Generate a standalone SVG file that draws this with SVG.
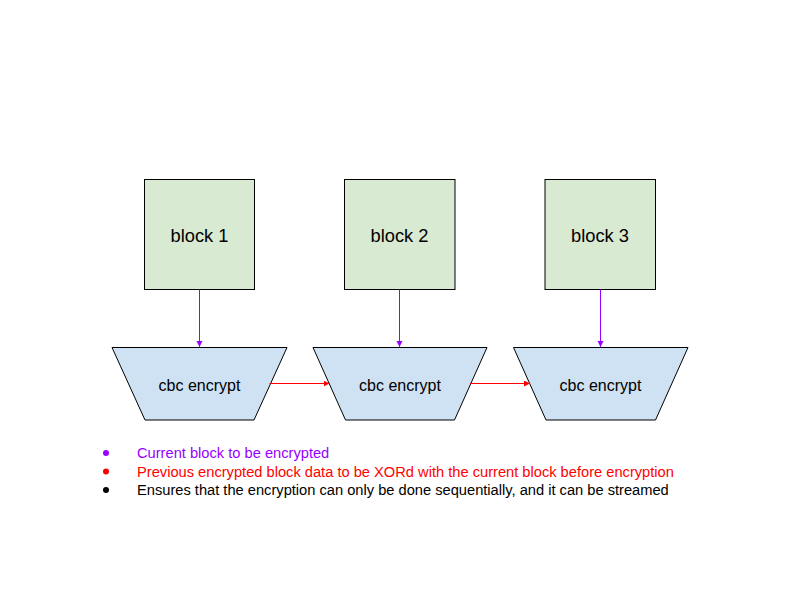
<svg xmlns="http://www.w3.org/2000/svg" width="800" height="600" viewBox="0 0 800 600">
<defs>
<style>
.blk{fill:#d9ead3;stroke:#000;stroke-width:1}
.trap{fill:#cfe2f3;stroke:#000;stroke-width:1}
text{font-family:"Liberation Sans",Arial,sans-serif}
.bt{font-size:18.3px;text-anchor:middle}
.ct{font-size:16px;text-anchor:middle}
.lg{font-size:14.67px}
.p{stroke:#9900ff;stroke-width:1;fill:none}
.r{stroke:#ff0000;stroke-width:1;fill:none}
</style>
<marker id="ap" markerWidth="8" markerHeight="8" refX="6" refY="3" orient="auto" markerUnits="userSpaceOnUse"><path d="M0,0 L6,3 L0,6 z" fill="#9900ff"/></marker>
<marker id="ar" markerWidth="8" markerHeight="8" refX="6" refY="3" orient="auto" markerUnits="userSpaceOnUse"><path d="M0,0 L6,3 L0,6 z" fill="#ff0000"/></marker>
</defs>
<rect width="800" height="600" fill="#fff"/>
<g id="block1"><rect class="blk" x="144.5" y="179.5" width="110" height="110"/><text class="bt" x="199.5" y="241.5">block 1</text></g>
<g id="block2"><rect class="blk" x="344.5" y="179.5" width="110.5" height="110"/><text class="bt" x="399.5" y="241.5">block 2</text></g>
<g id="block3"><rect class="blk" x="545" y="179.5" width="110.5" height="110"/><text class="bt" x="600" y="241.5">block 3</text></g>
<g id="enc1"><path class="trap" d="M112,347.5 L287,347.5 L254,420 L145,420 Z"/><text class="ct" x="199.5" y="390.5">cbc encrypt</text></g>
<g id="enc2"><path class="trap" d="M313,347.5 L487,347.5 L454.5,420 L345.5,420 Z"/><text class="ct" x="400" y="390.5">cbc encrypt</text></g>
<g id="enc3"><path class="trap" d="M513.5,347.5 L688,347.5 L655.5,420 L546,420 Z"/><text class="ct" x="600.5" y="390.5">cbc encrypt</text></g>
<g id="connectors">
<line class="p" x1="199.5" y1="289.5" x2="199.5" y2="347" marker-end="url(#ap)"/>
<line class="p" x1="399.5" y1="289.5" x2="399.5" y2="347" marker-end="url(#ap)"/>
<line class="p" x1="600.5" y1="289.5" x2="600.5" y2="347" marker-end="url(#ap)"/>
<line class="r" x1="269.5" y1="383.5" x2="329.5" y2="383.5" marker-end="url(#ar)"/>
<line class="r" x1="470" y1="383.5" x2="530" y2="383.5" marker-end="url(#ar)"/>
</g>
<g id="legend">
<circle cx="106" cy="453" r="3" fill="#9900ff"/>
<text class="lg" x="137" y="458" fill="#9900ff">Current block to be encrypted</text>
<circle cx="106" cy="471.5" r="3" fill="#ff0000"/>
<text class="lg" x="137" y="476.5" fill="#ff0000">Previous encrypted block data to be XORd with the current block before encryption</text>
<circle cx="106" cy="490" r="3" fill="#000"/>
<text class="lg" x="137" y="495" fill="#000">Ensures that the encryption can only be done sequentially, and it can be streamed</text>
</g>
</svg>
